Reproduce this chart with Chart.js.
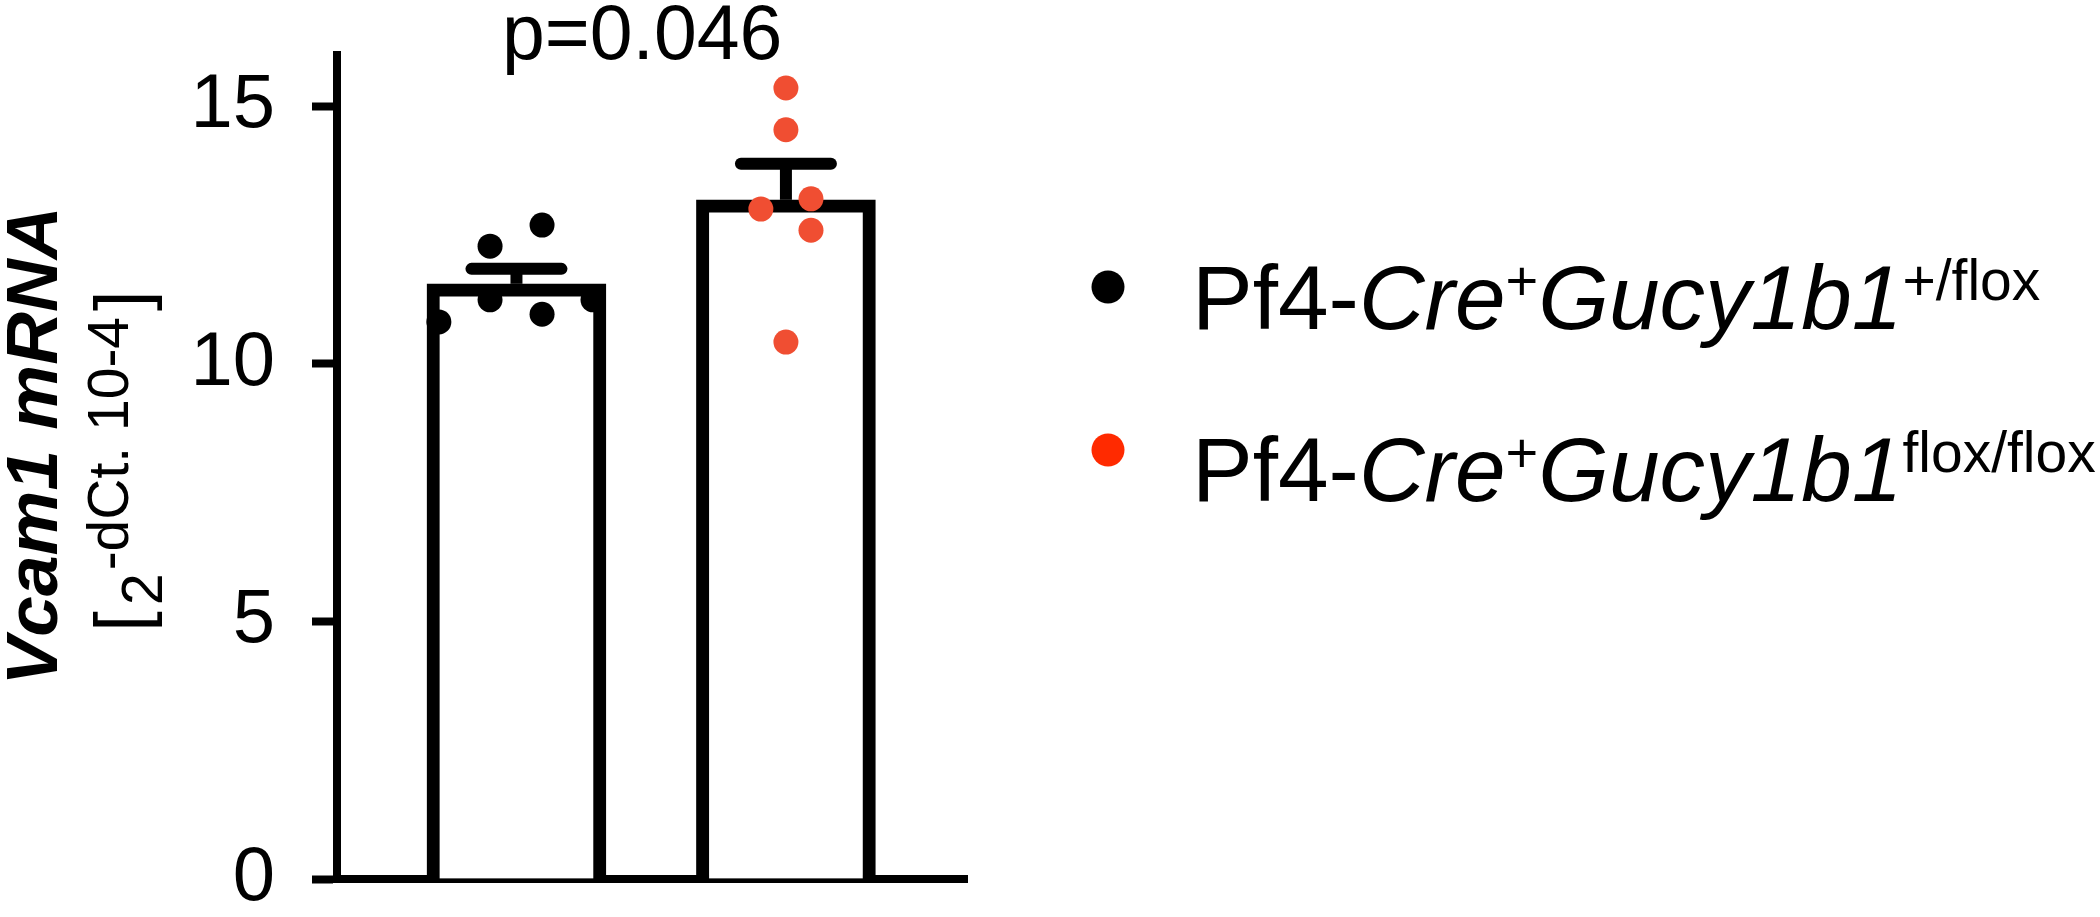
<!DOCTYPE html>
<html>
<head>
<meta charset="utf-8">
<script src="https://cdn.jsdelivr.net/npm/chart.js@4.4.1/dist/chart.umd.min.js"></script>
<style>
  html, body { margin: 0; padding: 0; background: #fff; }
  canvas { display: block; }
</style>
</head>
<body>
<canvas id="chart" width="2100" height="917"></canvas>
<script>
// groups (bar order)
const groups = ['Pf4-Cre+Gucy1b1+/flox', 'Pf4-Cre+Gucy1b1flox/flox'];
const barMeans = [11.55, 13.18];
const errUpper = [11.84, 13.88];   // mean + SEM
const pValue = 'p=0.046';
const yTicks = [0, 5, 10, 15];

// individual animals, x = group position + jitter
const ctrlX = [-0.288, -0.098, 0.095, -0.098, 0.095, 0.284];
const ctrlY = [10.81, 12.28, 12.69, 11.24, 10.96, 11.24];
const koX = [1.0, 1.0, 0.907, 1.093, 1.093, 1.0];
const koY = [15.35, 14.54, 13.00, 13.20, 12.59, 10.42];

const FONT = '"Liberation Sans", Arial, Helvetica, sans-serif';
const dotBlack = '#000000';
const dotRed = 'rgb(240,78,50)';
const legendRed = '#ff2a00';

function drawRuns(ctx, runs, x, y, align) {
  let total = 0;
  runs.forEach(r => { ctx.font = r.f; total += ctx.measureText(r.t).width + (r.gap || 0); });
  let cur = align === 'center' ? x - total / 2 : x;
  runs.forEach(r => {
    ctx.font = r.f;
    ctx.fillText(r.t, cur, y + (r.dy || 0));
    cur += ctx.measureText(r.t).width + (r.gap || 0);
  });
}

const extras = {
  id: 'extras',
  afterDatasetDraw(chart, args) {
    if (args.index !== 0) return;
    // error bars (upper SEM only)
    const ctx = chart.ctx, xs = chart.scales.x, ys = chart.scales.y;
    ctx.save();
    ctx.strokeStyle = '#000';
    ctx.lineWidth = 12;
    barMeans.forEach((m, i) => {
      const x = xs.getPixelForValue(i);
      const y0 = ys.getPixelForValue(m);
      const y1 = ys.getPixelForValue(errUpper[i]);
      ctx.lineCap = 'butt';
      ctx.beginPath(); ctx.moveTo(x, y0); ctx.lineTo(x, y1); ctx.stroke();
      ctx.lineCap = 'round';
      ctx.beginPath(); ctx.moveTo(x - 45, y1); ctx.lineTo(x + 45, y1); ctx.stroke();
    });
    ctx.restore();
  },
  afterDraw(chart) {
    const ctx = chart.ctx, xs = chart.scales.x;
    ctx.save();
    ctx.fillStyle = '#000';
    ctx.textBaseline = 'alphabetic';

    // p value
    ctx.font = '77px ' + FONT;
    ctx.textAlign = 'center';
    ctx.fillText(pValue, (xs.getPixelForValue(0) + xs.getPixelForValue(1)) / 2 - 9, 59);

    // y axis title
    ctx.save();
    ctx.translate(57, 446);
    ctx.rotate(-Math.PI / 2);
    ctx.font = 'italic bold 73px ' + FONT;
    ctx.textAlign = 'center';
    ctx.fillText('Vcam1 mRNA', 0, 0);
    ctx.restore();

    ctx.textAlign = 'left';
    ctx.save();
    ctx.translate(162, 461);
    ctx.rotate(-Math.PI / 2);
    drawRuns(ctx, [
      { t: '[', f: '74px ' + FONT, dy: -15, gap: 6 },
      { t: '2', f: '57px ' + FONT, gap: 3 },
      { t: '-dCt. 10-4', f: '57px ' + FONT, dy: -34, gap: 6 },
      { t: ']', f: '74px ' + FONT, dy: -15 }
    ], 0, 0, 'center');
    ctx.restore();

    // legend
    const items = [
      { color: dotBlack, cy: 287, base: 329, sup: '+/flox' },
      { color: legendRed, cy: 450, base: 501, sup: 'flox/flox' }
    ];
    items.forEach(it => {
      ctx.fillStyle = it.color;
      ctx.beginPath(); ctx.arc(1108, it.cy, 16.5, 0, Math.PI * 2); ctx.fill();
      ctx.fillStyle = '#000';
      drawRuns(ctx, [
        { t: 'Pf4-', f: '91px ' + FONT },
        { t: 'Cre', f: 'italic 91px ' + FONT },
        { t: '+', f: '56px ' + FONT, dy: -29 },
        { t: 'Gucy1b1', f: 'italic 91px ' + FONT },
        { t: it.sup, f: '57px ' + FONT, dy: -29 }
      ], 1192, it.base, 'left');
    });
    ctx.restore();
  }
};

new Chart(document.getElementById('chart'), {
  type: 'bar',
  data: {
    datasets: [
      {
        type: 'bar',
        label: 'mean',
        data: barMeans.map((v, i) => ({ x: i, y: v })),
        backgroundColor: '#ffffff',
        borderColor: '#000000',
        borderWidth: 13,
        barThickness: 179,
        order: 2
      },
      {
        type: 'scatter',
        label: groups[0],
        data: ctrlX.map((x, i) => ({ x: x, y: ctrlY[i] })),
        backgroundColor: dotBlack,
        borderWidth: 0,
        pointRadius: 12.5,
        order: 1
      },
      {
        type: 'scatter',
        label: groups[1],
        data: koX.map((x, i) => ({ x: x, y: koY[i] })),
        backgroundColor: dotRed,
        borderWidth: 0,
        pointRadius: 12.5,
        order: 1
      }
    ]
  },
  options: {
    responsive: false,
    animation: false,
    devicePixelRatio: 1,
    layout: { padding: { top: 54.5, right: 1133, bottom: 0, left: 0 } },
    plugins: { legend: { display: false }, tooltip: { enabled: false } },
    scales: {
      x: {
        type: 'linear',
        offset: false,
        min: -0.666,
        max: 1.672,
        ticks: { display: false },
        grid: { display: false },
        border: { display: true, color: '#000', width: 8 },
        afterFit: s => { s.height = 38; s.paddingLeft = 0; s.paddingRight = 0; }
      },
      y: {
        min: 0,
        max: 16,
        afterBuildTicks: s => { s.ticks = yTicks.map(v => ({ value: v })); },
        ticks: {
          color: '#000',
          padding: 37,
          font: { family: FONT, size: 76 }
        },
        grid: {
          drawOnChartArea: false,
          drawTicks: true,
          tickLength: 25,
          tickWidth: 8,
          tickColor: '#000'
        },
        border: { display: true, color: '#000', width: 8 },
        afterFit: s => { s.width = 337; s.paddingTop = 0; s.paddingBottom = 0; }
      }
    }
  },
  plugins: [extras]
});
</script>
</body>
</html>
